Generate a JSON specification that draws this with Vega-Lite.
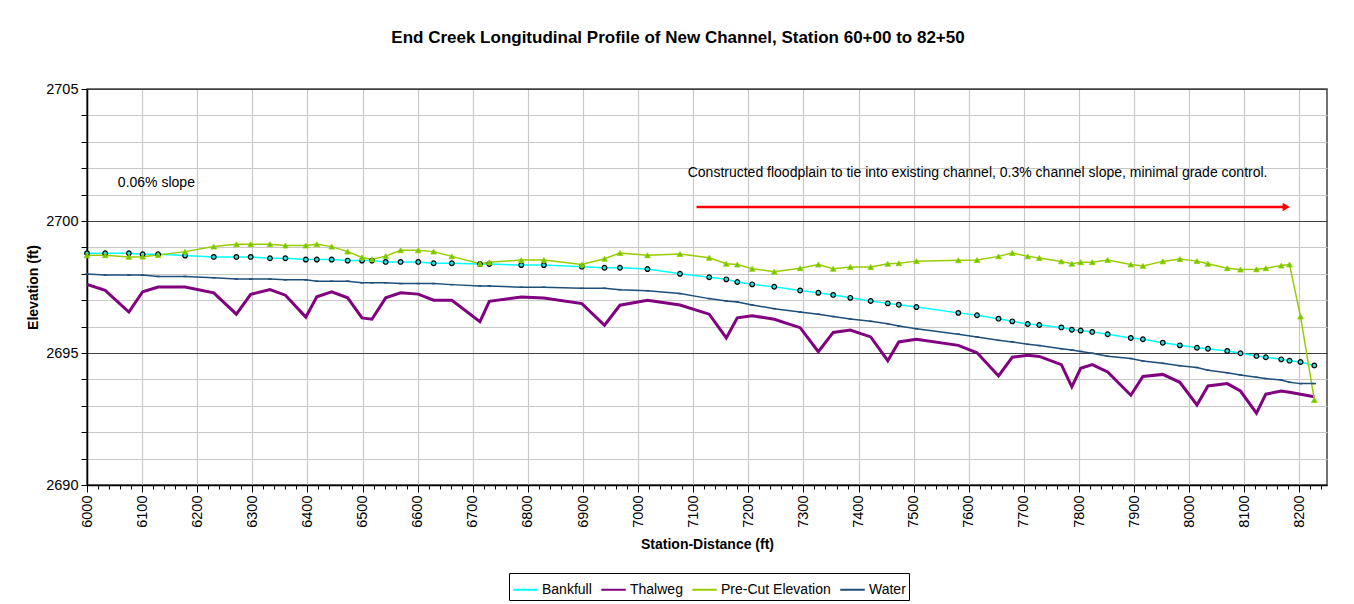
{
  "$schema": "https://vega.github.io/schema/vega-lite/v6.json",
  "width": 1240,
  "height": 396,
  "autosize": {"type": "none"},
  "padding": {"left": 87, "top": 89, "right": 27, "bottom": 119},
  "background": "white",
  "config": {
    "font": "Liberation Sans",
    "view": {"stroke": "#444", "strokeWidth": 1.5}
  },
  "title": {
    "text": "End Creek Longitudinal Profile of New Channel, Station 60+00 to 82+50",
    "font": "Liberation Sans",
    "fontSize": 17,
    "fontWeight": "bold",
    "color": "#000",
    "anchor": "middle",
    "dx": -29,
    "offset": 34
  },
  "datasets": {
    "profile": [
      {"station": 6000, "Bankfull": 2698.78, "Thalweg": 2697.60, "PreCut": 2698.70, "Water": 2697.99},
      {"station": 6033, "Bankfull": 2698.78, "Thalweg": 2697.37, "PreCut": 2698.70, "Water": 2697.95},
      {"station": 6076, "Bankfull": 2698.78, "Thalweg": 2696.55, "PreCut": 2698.64, "Water": 2697.95},
      {"station": 6101, "Bankfull": 2698.74, "Thalweg": 2697.32, "PreCut": 2698.65, "Water": 2697.95},
      {"station": 6129, "Bankfull": 2698.74, "Thalweg": 2697.50, "PreCut": 2698.71, "Water": 2697.90},
      {"station": 6178, "Bankfull": 2698.69, "Thalweg": 2697.50, "PreCut": 2698.84, "Water": 2697.90},
      {"station": 6230, "Bankfull": 2698.64, "Thalweg": 2697.28, "PreCut": 2699.03, "Water": 2697.85},
      {"station": 6271, "Bankfull": 2698.64, "Thalweg": 2696.47, "PreCut": 2699.12, "Water": 2697.80},
      {"station": 6297, "Bankfull": 2698.64, "Thalweg": 2697.22, "PreCut": 2699.12, "Water": 2697.80},
      {"station": 6332, "Bankfull": 2698.59, "Thalweg": 2697.40, "PreCut": 2699.12, "Water": 2697.80},
      {"station": 6360, "Bankfull": 2698.59, "Thalweg": 2697.19, "PreCut": 2699.07, "Water": 2697.77},
      {"station": 6397, "Bankfull": 2698.54, "Thalweg": 2696.36, "PreCut": 2699.07, "Water": 2697.77},
      {"station": 6417, "Bankfull": 2698.54, "Thalweg": 2697.13, "PreCut": 2699.12, "Water": 2697.72},
      {"station": 6444, "Bankfull": 2698.54, "Thalweg": 2697.32, "PreCut": 2699.03, "Water": 2697.72},
      {"station": 6473, "Bankfull": 2698.50, "Thalweg": 2697.09, "PreCut": 2698.84, "Water": 2697.72},
      {"station": 6499, "Bankfull": 2698.50, "Thalweg": 2696.33, "PreCut": 2698.62, "Water": 2697.66},
      {"station": 6517, "Bankfull": 2698.50, "Thalweg": 2696.28, "PreCut": 2698.55, "Water": 2697.66},
      {"station": 6542, "Bankfull": 2698.45, "Thalweg": 2697.09, "PreCut": 2698.67, "Water": 2697.66},
      {"station": 6569, "Bankfull": 2698.45, "Thalweg": 2697.28, "PreCut": 2698.89, "Water": 2697.63},
      {"station": 6601, "Bankfull": 2698.45, "Thalweg": 2697.23, "PreCut": 2698.89, "Water": 2697.63},
      {"station": 6629, "Bankfull": 2698.40, "Thalweg": 2697.00, "PreCut": 2698.84, "Water": 2697.63},
      {"station": 6662, "Bankfull": 2698.40, "Thalweg": 2697.00, "PreCut": 2698.66, "Water": 2697.59},
      {"station": 6713, "Bankfull": 2698.37, "Thalweg": 2696.19, "PreCut": 2698.38, "Water": 2697.54},
      {"station": 6730, "Bankfull": 2698.37, "Thalweg": 2696.96, "PreCut": 2698.44, "Water": 2697.54},
      {"station": 6788, "Bankfull": 2698.33, "Thalweg": 2697.12, "PreCut": 2698.52, "Water": 2697.49},
      {"station": 6829, "Bankfull": 2698.33, "Thalweg": 2697.08, "PreCut": 2698.52, "Water": 2697.49},
      {"station": 6898, "Bankfull": 2698.27, "Thalweg": 2696.87, "PreCut": 2698.35, "Water": 2697.45},
      {"station": 6939, "Bankfull": 2698.23, "Thalweg": 2696.05, "PreCut": 2698.57, "Water": 2697.45},
      {"station": 6967, "Bankfull": 2698.23, "Thalweg": 2696.81, "PreCut": 2698.79, "Water": 2697.40},
      {"station": 7017, "Bankfull": 2698.18, "Thalweg": 2697.00, "PreCut": 2698.70, "Water": 2697.36},
      {"station": 7076, "Bankfull": 2698.00, "Thalweg": 2696.82, "PreCut": 2698.75, "Water": 2697.25},
      {"station": 7129, "Bankfull": 2697.87, "Thalweg": 2696.47, "PreCut": 2698.61, "Water": 2697.06},
      {"station": 7160, "Bankfull": 2697.79, "Thalweg": 2695.57, "PreCut": 2698.38, "Water": 2696.97},
      {"station": 7180, "Bankfull": 2697.69, "Thalweg": 2696.33, "PreCut": 2698.35, "Water": 2696.93},
      {"station": 7207, "Bankfull": 2697.60, "Thalweg": 2696.41, "PreCut": 2698.19, "Water": 2696.82},
      {"station": 7247, "Bankfull": 2697.51, "Thalweg": 2696.28, "PreCut": 2698.08, "Water": 2696.68},
      {"station": 7294, "Bankfull": 2697.37, "Thalweg": 2695.96, "PreCut": 2698.21, "Water": 2696.55},
      {"station": 7327, "Bankfull": 2697.28, "Thalweg": 2695.05, "PreCut": 2698.35, "Water": 2696.47},
      {"station": 7354, "Bankfull": 2697.20, "Thalweg": 2695.78, "PreCut": 2698.19, "Water": 2696.38},
      {"station": 7385, "Bankfull": 2697.09, "Thalweg": 2695.87, "PreCut": 2698.26, "Water": 2696.29},
      {"station": 7422, "Bankfull": 2696.97, "Thalweg": 2695.61, "PreCut": 2698.26, "Water": 2696.20},
      {"station": 7453, "Bankfull": 2696.88, "Thalweg": 2694.71, "PreCut": 2698.38, "Water": 2696.11},
      {"station": 7473, "Bankfull": 2696.83, "Thalweg": 2695.42, "PreCut": 2698.40, "Water": 2696.02},
      {"station": 7505, "Bankfull": 2696.74, "Thalweg": 2695.52, "PreCut": 2698.48, "Water": 2695.92},
      {"station": 7581, "Bankfull": 2696.52, "Thalweg": 2695.29, "PreCut": 2698.51, "Water": 2695.71},
      {"station": 7615, "Bankfull": 2696.43, "Thalweg": 2695.01, "PreCut": 2698.52, "Water": 2695.61},
      {"station": 7654, "Bankfull": 2696.30, "Thalweg": 2694.13, "PreCut": 2698.66, "Water": 2695.48},
      {"station": 7679, "Bankfull": 2696.20, "Thalweg": 2694.84, "PreCut": 2698.79, "Water": 2695.42},
      {"station": 7707, "Bankfull": 2696.10, "Thalweg": 2694.91, "PreCut": 2698.66, "Water": 2695.33},
      {"station": 7728, "Bankfull": 2696.06, "Thalweg": 2694.87, "PreCut": 2698.60, "Water": 2695.28},
      {"station": 7768, "Bankfull": 2695.97, "Thalweg": 2694.56, "PreCut": 2698.47, "Water": 2695.16},
      {"station": 7787, "Bankfull": 2695.88, "Thalweg": 2693.72, "PreCut": 2698.38, "Water": 2695.11},
      {"station": 7803, "Bankfull": 2695.85, "Thalweg": 2694.42, "PreCut": 2698.44, "Water": 2695.06},
      {"station": 7824, "Bankfull": 2695.80, "Thalweg": 2694.56, "PreCut": 2698.44, "Water": 2694.99},
      {"station": 7852, "Bankfull": 2695.71, "Thalweg": 2694.28, "PreCut": 2698.52, "Water": 2694.88},
      {"station": 7894, "Bankfull": 2695.57, "Thalweg": 2693.40, "PreCut": 2698.35, "Water": 2694.79},
      {"station": 7916, "Bankfull": 2695.52, "Thalweg": 2694.11, "PreCut": 2698.30, "Water": 2694.70},
      {"station": 7952, "Bankfull": 2695.39, "Thalweg": 2694.19, "PreCut": 2698.47, "Water": 2694.61},
      {"station": 7983, "Bankfull": 2695.29, "Thalweg": 2693.89, "PreCut": 2698.56, "Water": 2694.52},
      {"station": 8014, "Bankfull": 2695.20, "Thalweg": 2693.03, "PreCut": 2698.48, "Water": 2694.45},
      {"station": 8034, "Bankfull": 2695.16, "Thalweg": 2693.75, "PreCut": 2698.38, "Water": 2694.35},
      {"station": 8069, "Bankfull": 2695.08, "Thalweg": 2693.84, "PreCut": 2698.21, "Water": 2694.25},
      {"station": 8093, "Bankfull": 2694.99, "Thalweg": 2693.56, "PreCut": 2698.16, "Water": 2694.17},
      {"station": 8122, "Bankfull": 2694.89, "Thalweg": 2692.72, "PreCut": 2698.17, "Water": 2694.08},
      {"station": 8139, "Bankfull": 2694.84, "Thalweg": 2693.44, "PreCut": 2698.21, "Water": 2694.03},
      {"station": 8167, "Bankfull": 2694.76, "Thalweg": 2693.56, "PreCut": 2698.31, "Water": 2693.98},
      {"station": 8182, "Bankfull": 2694.71, "Thalweg": 2693.51, "PreCut": 2698.35, "Water": 2693.89},
      {"station": 8202, "Bankfull": 2694.66, "Thalweg": 2693.44, "PreCut": 2696.38, "Water": 2693.84},
      {"station": 8227, "Bankfull": 2694.53, "Thalweg": 2693.34, "PreCut": 2693.22, "Water": 2693.84}
    ],
    "notes": [
      {"station": 6056, "elev": 2701.44, "label": "0.06% slope"},
      {"station": 7090, "elev": 2701.82, "label": "Constructed floodplain to tie into existing channel, 0.3% channel slope, minimal grade control."}
    ],
    "arrow": [
      {"station": 7106, "end": 8176, "elev": 2700.53}
    ]
  },
  "encoding": {
    "x": {
      "field": "station",
      "type": "quantitative",
      "title": "Station-Distance (ft)",
      "scale": {"domain": [6000, 8250], "nice": false, "zero": false},
      "axis": {
        "values": [6000,6020,6040,6060,6080,6100,6120,6140,6160,6180,6200,6220,6240,6260,6280,6300,6320,6340,6360,6380,6400,6420,6440,6460,6480,6500,6520,6540,6560,6580,6600,6620,6640,6660,6680,6700,6720,6740,6760,6780,6800,6820,6840,6860,6880,6900,6920,6940,6960,6980,7000,7020,7040,7060,7080,7100,7120,7140,7160,7180,7200,7220,7240,7260,7280,7300,7320,7340,7360,7380,7400,7420,7440,7460,7480,7500,7520,7540,7560,7580,7600,7620,7640,7660,7680,7700,7720,7740,7760,7780,7800,7820,7840,7860,7880,7900,7920,7940,7960,7980,8000,8020,8040,8060,8080,8100,8120,8140,8160,8180,8200,8220,8240],
        "format": "d",
        "labelExpr": "datum.value % 100 === 0 ? datum.label : ''",
        "labelOverlap": false,
        "labelAngle": 270,
        "labelAlign": "right",
        "labelBaseline": "middle",
        "labelFontSize": 14.5,
        "labelColor": "#000",
        "labelPadding": 3,
        "labelFlush": false,
        "domainColor": "#000",
        "domainWidth": 1.5,
        "tickColor": "#000",
        "tickSize": {"condition": {"test": "datum.value % 100 === 0", "value": 7}, "value": 4},
        "grid": true,
        "gridColor": "#c8c8c8",
        "gridWidth": 1.2,
        "gridOpacity": {"condition": {"test": "datum.value % 100 === 0", "value": 1}, "value": 0},
        "titleFontSize": 14,
        "titleFontWeight": "bold",
        "titleColor": "#000",
        "titlePadding": 10
      }
    },
    "y": {
      "field": "elev",
      "type": "quantitative",
      "title": "Elevation (ft)",
      "scale": {"domain": [2690, 2705], "nice": false, "zero": false},
      "axis": {
        "values": [2690,2691,2692,2693,2694,2695,2696,2697,2698,2699,2700,2701,2702,2703,2704,2705],
        "format": "d",
        "labelExpr": "datum.value % 5 === 0 ? datum.label : ''",
        "labelOverlap": false,
        "labelFontSize": 14.5,
        "labelColor": "#000",
        "labelPadding": 3,
        "labelFlush": false,
        "domainColor": "#000",
        "domainWidth": 1.5,
        "tickColor": "#000",
        "tickSize": 6,
        "grid": true,
        "gridColor": {"condition": {"test": "datum.value % 5 === 0", "value": "#404040"}, "value": "#c8c8c8"},
        "gridWidth": 1.2,
        "titleFontSize": 14,
        "titleFontWeight": "bold",
        "titleColor": "#000",
        "titlePadding": 5
      }
    }
  },
  "layer": [
    {
      "data": {"name": "profile"},
      "transform": [{"fold": ["Bankfull", "Thalweg", "PreCut", "Water"], "as": ["series", "elev"]}],
      "mark": {"type": "line", "clip": true},
      "encoding": {
        "color": {
          "field": "series",
          "type": "nominal",
          "scale": {"domain": ["Bankfull", "Thalweg", "PreCut", "Water"], "range": ["#00FFFF", "#800080", "#99CC00", "#1F4E79"]},
          "legend": {
            "orient": "none",
            "legendX": 422,
            "legendY": 484,
            "direction": "horizontal",
            "title": null,
            "labelExpr": "datum.value === 'PreCut' ? 'Pre-Cut Elevation' : datum.value",
            "labelFontSize": 14,
            "labelColor": "#000",
            "labelLimit": 0,
            "symbolType": "stroke",
            "symbolSize": 600,
            "symbolStrokeWidth": 2,
            "columnPadding": 5,
            "labelOffset": 3,
            "strokeColor": "#000",
            "padding": 3
          }
        },
        "strokeWidth": {"condition": {"test": "datum.series === 'Thalweg'", "value": 3}, "value": 1.5}
      }
    },
    {
      "data": {"name": "profile"},
      "transform": [{"fold": ["Bankfull"], "as": ["series", "elev"]}],
      "mark": {"type": "point", "shape": "circle", "size": 22, "filled": true, "fill": "#33E0E0", "stroke": "#000", "strokeWidth": 1.2, "opacity": 1}
    },
    {
      "data": {"name": "profile"},
      "transform": [{"fold": ["PreCut"], "as": ["series", "elev"]}],
      "mark": {"type": "point", "shape": "triangle-up", "size": 32, "filled": true, "fill": "#66CC00", "stroke": "#99CC00", "strokeWidth": 0.8, "opacity": 1}
    },
    {
      "data": {"name": "profile"},
      "transform": [{"fold": ["Water"], "as": ["series", "elev"]}],
      "mark": {"type": "point", "shape": "stroke", "size": 12, "filled": false, "stroke": "#1F4E79", "strokeWidth": 1.5, "opacity": 1}
    },
    {
      "data": {"name": "notes"},
      "mark": {"type": "text", "align": "left", "baseline": "middle", "fontSize": 14, "font": "Liberation Sans", "color": "#000"},
      "encoding": {"text": {"field": "label"}}
    },
    {
      "data": {"name": "arrow"},
      "mark": {"type": "rule", "color": "#FF0000", "strokeWidth": 2.5},
      "encoding": {"x2": {"field": "end"}}
    },
    {
      "data": {"name": "arrow"},
      "mark": {"type": "point", "shape": "triangle-right", "size": 70, "filled": true, "color": "#FF0000", "opacity": 1},
      "encoding": {"x": {"field": "end", "type": "quantitative"}}
    }
  ]
}
